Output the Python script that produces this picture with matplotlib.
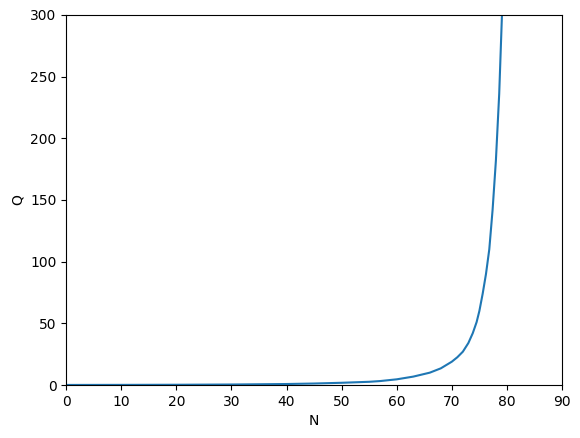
import matplotlib.pyplot as plt

# valores
n_valores = [0, 10, 20, 30, 40, 45, 50, 55, 57, 60, 63, 66, 68, 69, 70, 71, 72,
             73, 73.8, 74.5, 75, 75.6, 76.2, 76.8, 77.4, 78.0, 78.6, 79.1]
q_valores = [0.05, 0.1, 0.2, 0.4, 0.8, 1.2, 1.8, 2.6, 3.2, 4.6, 6.8, 10, 13.5,
             16.2, 18.9, 22.5, 27, 34, 42, 51, 60, 74, 90, 110, 142, 182, 236, 300]

fig = plt.figure(figsize=(5.8, 4.38), dpi=100)
ax = fig.add_subplot(111)
fig.subplots_adjust(left=0.114, right=0.969, top=0.966, bottom=0.121)

ax.plot(n_valores, q_valores, color='#1f77b4')
ax.set_xlim(0, 90)
ax.set_ylim(0, 300)
ax.set_xlabel('N')
ax.set_ylabel('Q')

fig.savefig('out.png', dpi=100)
